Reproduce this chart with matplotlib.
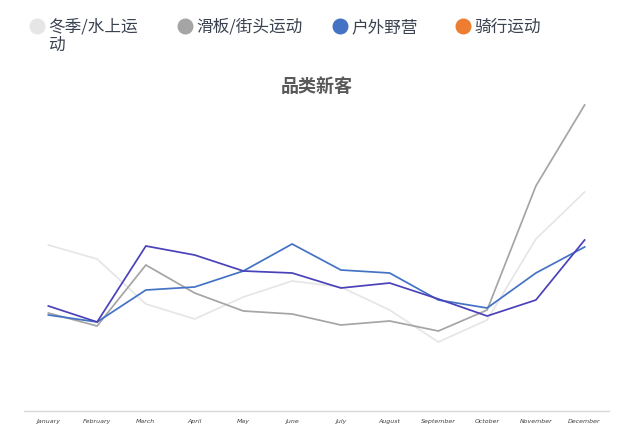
import matplotlib
matplotlib.use("Agg")
import matplotlib.pyplot as plt
from matplotlib.lines import Line2D

plt.rcParams['font.family'] = ['Noto Sans CJK SC', 'DejaVu Sans']

months = ["January", "February", "March", "April", "May", "June", "July",
          "August", "September", "October", "November", "December"]
series_names = ["冬季/水上运动", "滑板/街头运动", "户外野营", "骑行运动"]
legend_labels = ["冬季/水上运\n动", "滑板/街头运动", "户外野营", "骑行运动"]
winter = [166, 152, 107, 92, 114, 130, 124, 101, 69, 91, 172, 219]
skate = [98, 85, 146, 118, 100, 97, 86, 90, 80, 101, 225, 306]
camping = [96, 89, 121, 124, 140, 167, 141, 138, 111, 103, 138, 164]
cycling = [105, 89, 165, 156, 140, 138, 123, 128, 112, 95, 111, 171]

line_colors = ["#E7E6E6", "#A5A5A5", "#4472C4", "#4A42B8"]
legend_colors = ["#E7E6E6", "#A5A5A5", "#4472C4", "#ED7D31"]

W, H = 617, 434
fig = plt.figure(figsize=(W / 100, H / 100), dpi=100)
ax = fig.add_axes([24 / W, (H - 411) / H, (609 - 24) / W, 311 / H])

x = list(range(len(months)))
for vals, c in zip([winter, skate, camping, cycling], line_colors):
    ax.plot(x, vals, color=c, lw=1.25, solid_joinstyle='miter')

ax.set_xlim(-0.5, 11.5)
ax.set_ylim(0, 311)
ax.set_yticks([])
ax.set_xticks(x)
ax.set_xticklabels(months, fontsize=4.5, color="#404040", style='italic',
                   family=['DejaVu Sans'])
ax.tick_params(axis='x', length=0, pad=6)
for s in ['top', 'right', 'left']:
    ax.spines[s].set_visible(False)
ax.spines['bottom'].set_color('#D9D9D9')
ax.spines['bottom'].set_linewidth(1)

fig.text(317 / W, 1 - 87 / H, "品类新客", ha='center', va='center',
         fontsize=13, fontweight='bold', color='#595959')

legend_x = [37, 185, 340, 463]
for lx, lab, c in zip(legend_x, legend_labels, legend_colors):
    fig.add_artist(Line2D([lx / W], [1 - 26 / H], marker='o', markersize=10.5,
                          color=c, linestyle='none', transform=fig.transFigure))
    fig.text((lx + 11) / W, 1 - 19 / H, lab, ha='left', va='top',
             fontsize=12, color='#3A4150', linespacing=1.1)

fig.savefig("out.png", dpi=100)
